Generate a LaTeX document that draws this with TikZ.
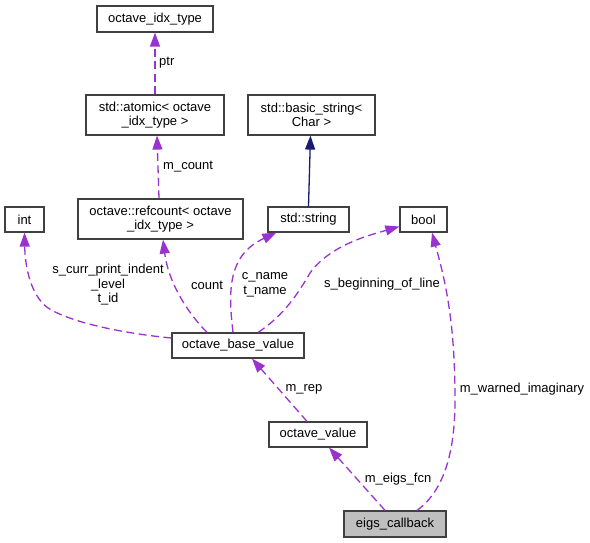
\documentclass[tikz,border=0pt]{standalone}
\usepackage{fontspec}
\setmainfont{Liberation Sans}
\usetikzlibrary{arrows.meta,calc}
\definecolor{edgepurple}{HTML}{9A32CD}
\definecolor{edgenavy}{HTML}{191970}
\definecolor{boxline}{HTML}{404040}
\begin{document}
\begin{tikzpicture}[x=1pt,y=-1pt,
  every node/.style={font=\fontsize{13}{14.5}\selectfont},
  cls/.style={draw=boxline,line width=1.2pt,fill=white,inner sep=0pt,align=center},
  cur/.style={cls,fill=black!25},
  member/.style={draw=edgepurple,line width=1.3pt,dash pattern=on 8pt off 4.5pt,
     -{Triangle[length=14pt,width=10pt,fill=edgepurple]}},
  inherit/.style={draw=edgenavy,line width=1.3pt,
     -{Triangle[length=14pt,width=10pt,fill=edgenavy]}},
  lbl/.style={inner sep=0pt,align=center}]
\useasboundingbox (0,0) rectangle (590,543);
% nodes
\node[cls,minimum width=116pt,minimum height=26pt] (idx) at (155,19) {octave\_idx\_type};
\node[cls,minimum width=138pt,minimum height=40pt] (atomic) at (155,115) {std::atomic\textless{} octave\\\_idx\_type \textgreater};
\node[cls,minimum width=127pt,minimum height=40pt] (basic) at (311.5,115) {std::basic\_string\textless\\Char \textgreater};
\node[cls,minimum width=165pt,minimum height=40pt] (refc) at (160.5,219) {octave::refcount\textless{} octave\\\_idx\_type \textgreater};
\node[cls,minimum width=39pt,minimum height=25pt] (int) at (24.5,219.5) {int};
\node[cls,minimum width=81pt,minimum height=25pt] (string) at (308.5,219.5) {std::string};
\node[cls,minimum width=47pt,minimum height=25pt] (bool) at (423.5,219.5) {bool};
\node[cls,minimum width=132pt,minimum height=25pt] (base) at (238,345.5) {octave\_base\_value};
\node[cls,minimum width=98pt,minimum height=25pt] (octv) at (318,434.5) {octave\_value};
\node[cur,minimum width=102pt,minimum height=26pt] (eig) at (395,524) {eigs\_callback};
% edges
\draw[member] (atomic.north) -- (idx.south);
\draw[member] ([xshift=-1.5pt]refc.north) -- ([xshift=2pt]atomic.south);
\draw[inherit] (string.north) -- ([xshift=-1pt]basic.south);
\draw[member] ([yshift=7.5pt]base.west) .. controls (120,333) and (70,322) .. (48,308)
   .. controls (30,295) and (25,265) .. (int.south);
\draw[member] ([xshift=-31pt]base.north) .. controls (185,310) and (168,280) .. ([xshift=2.5pt]refc.south);
\draw[member] ([xshift=-5pt]base.north) .. controls (228,290) and (228,255) .. ([xshift=9pt]string.south west);
\draw[member] ([xshift=20pt]base.north) .. controls (285,315) and (300,290) .. (310,273)
   .. controls (330,245) and (370,235) .. ([yshift=-7pt]bool.west);
\draw[member] ([xshift=22pt]eig.north) .. controls (445,490) and (455,450) .. (455,400)
   .. controls (455,320) and (445,280) .. ([xshift=8.5pt]bool.south);
\draw[member] ([xshift=-11pt]octv.north) -- ([xshift=14pt]base.south);
\draw[member] ([xshift=-10pt]eig.north) -- ([xshift=11pt]octv.south);
% labels
\node[lbl,anchor=west] (lptr) at (159,63) {ptr};
\node[lbl,anchor=west] (lmcount) at (163,167) {m\_count};
\node[lbl] (lint) at (108,285) {s\_curr\_print\_indent\\\_level\\t\_id};
\node[lbl] (lcount) at (207,285) {count};
\node[lbl] (lname) at (265,285) {c\_name\\t\_name};
\node[lbl] (lbeg) at (382,284) {s\_beginning\_of\_line};
\node[lbl] (lwarn) at (522,389) {m\_warned\_imaginary};
\node[lbl] (lrep) at (304,389) {m\_rep};
\node[lbl] (leigs) at (398,479) {m\_eigs\_fcn};
\end{tikzpicture}
\end{document}
